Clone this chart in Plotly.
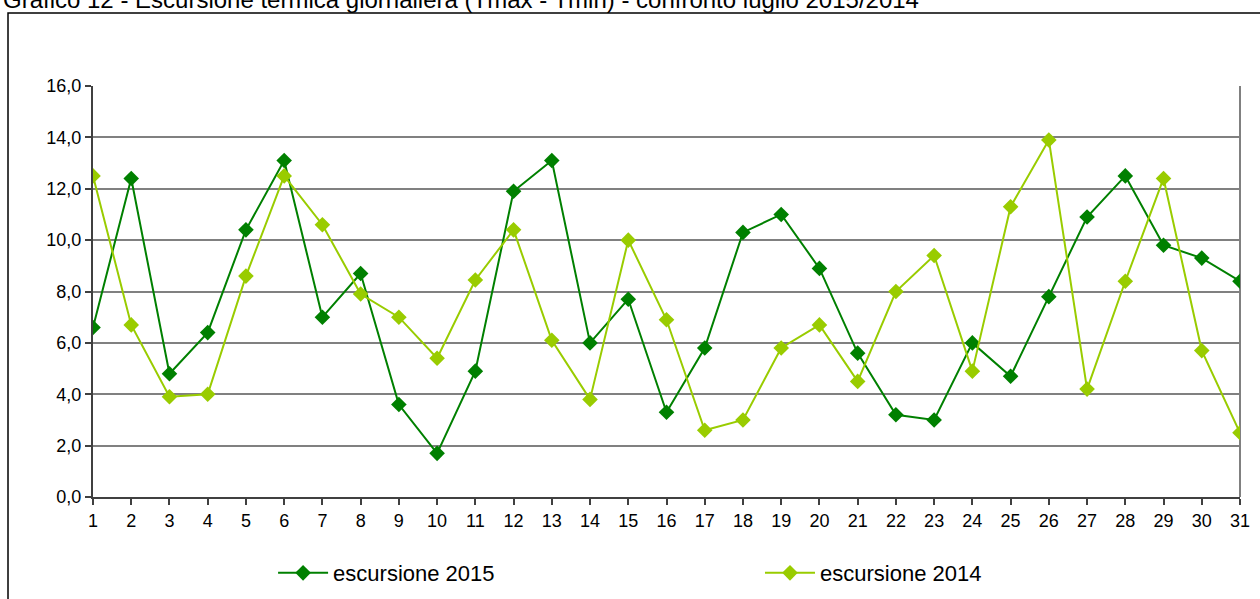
import plotly.graph_objects as go

# giorni del mese
giorni = list(range(1, 32))

# escursione termica giornaliera (Tmax - Tmin), °C
escursione_2015 = [6.6, 12.4, 4.8, 6.4, 10.4, 13.1, 7.0, 8.7, 3.6, 1.7,
                   4.9, 11.9, 13.1, 6.0, 7.7, 3.3, 5.8, 10.3, 11.0, 8.9,
                   5.6, 3.2, 3.0, 6.0, 4.7, 7.8, 10.9, 12.5, 9.8, 9.3, 8.4]
escursione_2014 = [12.5, 6.7, 3.9, 4.0, 8.6, 12.5, 10.6, 7.9, 7.0, 5.4,
                   8.45, 10.4, 6.1, 3.8, 10.0, 6.9, 2.6, 3.0, 5.8, 6.7,
                   4.5, 8.0, 9.4, 4.9, 11.3, 13.9, 4.2, 8.4, 12.4, 5.7, 2.5]

y_ticks = [0, 2, 4, 6, 8, 10, 12, 14, 16]

COL_2015 = "#008000"
COL_2014 = "#99CC00"
FONT = "Liberation Sans, Arial, sans-serif"

fig = go.Figure()
fig.add_trace(go.Scatter(
    x=giorni, y=escursione_2015, name="escursione 2015",
    mode="lines+markers",
    line=dict(color=COL_2015, width=2),
    marker=dict(symbol="diamond", size=12, color=COL_2015),
    legend="legend",
))
fig.add_trace(go.Scatter(
    x=giorni, y=escursione_2014, name="escursione 2014",
    mode="lines+markers",
    line=dict(color=COL_2014, width=2),
    marker=dict(symbol="diamond", size=12, color=COL_2014),
    legend="legend2",
))

# bordo destro dell'area del grafico
fig.add_shape(type="line", xref="paper", yref="paper", x0=1, x1=1, y0=0, y1=1,
              line=dict(color="#808080", width=2), layer="below")
# cornice esterna del grafico
fig.add_shape(type="rect", xref="paper", yref="paper",
              x0=-0.0741, x1=1.2, y0=-0.5, y1=1.1776,
              line=dict(color="#000000", width=1.5))

# titolo (tagliato dal bordo superiore come nell'originale)
fig.add_annotation(
    text="Grafico 12 - Escursione termica giornaliera (Tmax - Tmin) - confronto luglio 2015/2014",
    xref="paper", yref="paper", x=-0.08, y=1.172, xanchor="left", yanchor="bottom",
    showarrow=False, font=dict(family=FONT, size=24, color="#000000"),
)

legend_style = dict(orientation="h", yanchor="middle", y=-0.185, xanchor="left",
                    font=dict(size=22), itemwidth=50, bgcolor="rgba(0,0,0,0)")

fig.update_layout(
    width=1260, height=599,
    margin=dict(l=93, r=20, t=86, b=102, autoexpand=False),
    paper_bgcolor="white", plot_bgcolor="white",
    font=dict(family=FONT, size=18, color="#000000"),
    separators=",.",
    showlegend=True,
    legend=dict(x=0.157, **legend_style),
    legend2=dict(x=0.5815, **legend_style),
)
fig.update_xaxes(
    range=[1, 31], tickmode="array", tickvals=giorni, automargin=False,
    showgrid=False, zeroline=False, ticklabeloverflow="allow",
    showline=True, linecolor="#404040", linewidth=2,
    ticks="outside", ticklen=6, tickcolor="#404040", tickwidth=1.5,
)
fig.update_yaxes(
    range=[0, 16], tickmode="array", tickvals=y_ticks, tickformat=".1f", automargin=False,
    showgrid=True, gridcolor="#808080", gridwidth=1.5, zeroline=False,
    showline=True, linecolor="#404040", linewidth=2,
    ticks="outside", ticklen=6, tickcolor="#404040", tickwidth=1.5,
)

fig.write_html("out.html", config={"displayModeBar": False},
               post_script="document.body.style.margin = '0';")
